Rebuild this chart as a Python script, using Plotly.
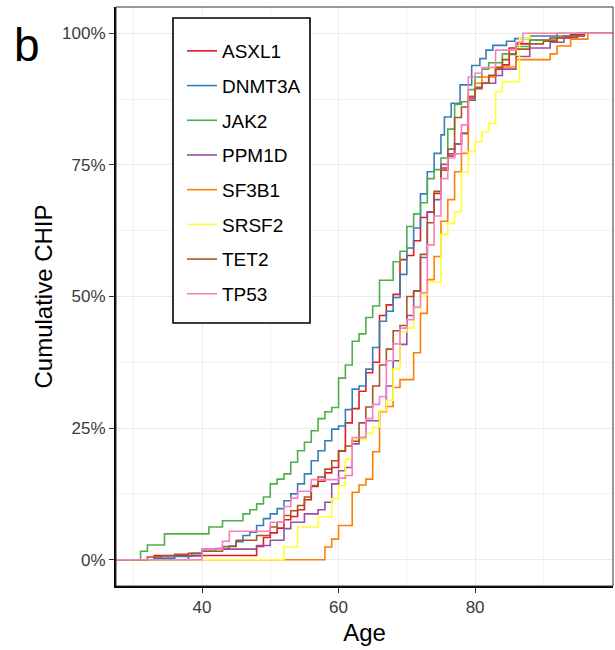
import plotly.graph_objects as go

# ---------------- data ----------------
genes = ["ASXL1", "DNMT3A", "JAK2", "PPM1D", "SF3B1", "SRSF2", "TET2", "TP53"]
colors = ["#E41A1C", "#377EB8", "#4DAF4A", "#984EA3", "#FF7F00", "#FFFF33", "#A65628", "#F781BF"]

asxl1_age = [33, 48, 49, 50, 51, 52, 53, 54, 55, 56, 57, 58, 59, 60, 61, 62, 63, 64, 65, 66, 67, 68, 69, 70, 71, 72, 73, 74, 75, 76, 77, 78, 79, 80, 81, 82, 83, 84, 85, 86, 88, 91, 94, 96]
asxl1_cum = [0.8, 2.5, 4.2, 5.1, 6.0, 7.6, 8.2, 9.5, 11.4, 13.9, 14.9, 16.5, 17.5, 20.6, 26.0, 28.7, 32.0, 35.5, 37.5, 46.4, 48.4, 50.4, 57.0, 57.8, 60.6, 65.0, 66.0, 69.6, 74.4, 76.7, 79.0, 81.0, 87.7, 89.7, 90.5, 92.0, 93.2, 94.0, 97.2, 98.0, 98.7, 99.1, 99.8, 100]

dnmt3a_age = [33, 36, 38.5, 40, 42, 44, 45, 46, 47, 48, 49, 50, 51, 52, 53, 54, 55, 56, 57, 58, 59, 60, 61, 62, 63, 64, 65, 66, 67, 68, 69, 70, 71, 72, 73, 74, 75, 75.5, 76.5, 77.8, 79.5, 80.7, 81.6, 82.6, 84.6, 85.8, 88, 92]
dnmt3a_cum = [0.3, 0.6, 1.2, 1.6, 2.1, 2.6, 3.4, 4.6, 5.2, 6.5, 7.8, 8.7, 9.7, 11.2, 12.5, 14.4, 16.3, 18.8, 20.7, 22.6, 24.8, 25.4, 28.5, 32.4, 33.0, 36.2, 40.3, 45.3, 47.2, 49.8, 54.2, 59.2, 63.0, 69.5, 73.7, 77.2, 80.7, 84.1, 86.7, 90.2, 93.9, 95.2, 96.8, 97.7, 98.5, 99.0, 99.5, 100]

jak2_age = [31, 32, 34.5, 41, 43, 46, 47, 48, 49, 50, 51, 52, 53, 54, 55, 56, 57, 58, 59, 60, 61, 62, 63, 64, 65, 66, 68, 69, 70, 71, 72, 73, 74, 75, 76, 77, 78, 79, 80, 81, 82, 84, 86, 88, 92, 96]
jak2_cum = [1.6, 2.8, 4.9, 6.2, 7.4, 8.7, 9.5, 10.6, 11.9, 14.4, 15.3, 16.3, 18.5, 20.7, 22.3, 24.5, 26.8, 28.1, 28.9, 34.5, 37.0, 41.5, 42.9, 46.0, 48.2, 53.1, 56.6, 58.6, 63.3, 65.7, 67.8, 72.4, 74.1, 76.3, 81.8, 86.5, 87.0, 89.3, 91.7, 93.2, 94.4, 96.1, 97.5, 98.7, 99.5, 100]

ppm1d_age = [38, 40, 48, 50, 52, 53, 55, 57, 58, 59, 60, 61, 62, 63, 64, 66, 67, 68, 69, 70, 71, 72, 73, 74, 75, 76, 77, 78, 79, 80, 81, 83, 84, 86, 88, 91, 93, 96]
ppm1d_cum = [0.7, 2.0, 2.7, 3.7, 5.9, 7.1, 8.7, 9.5, 10.9, 14.4, 16.9, 17.5, 22.0, 23.2, 26.4, 28.3, 33.0, 37.8, 40.9, 46.4, 51.1, 57.4, 66.1, 68.4, 75.1, 77.1, 79.0, 81.0, 87.3, 89.7, 90.5, 92.0, 93.2, 95.6, 97.2, 98.3, 99.5, 100]

sf3b1_age = [58, 59, 60, 62, 63, 64, 65, 66, 67, 68, 69, 71, 72, 73, 74, 75, 76, 77, 78, 79, 80, 81, 83, 86, 91, 92, 94, 96.5]
sf3b1_cum = [2.4, 3.9, 6.5, 12.8, 14.2, 15.3, 20.5, 28.1, 29.1, 32.7, 34.2, 39.3, 46.8, 53.2, 57.6, 64.3, 68.4, 73.7, 77.2, 88.0, 90.5, 91.7, 93.6, 95.0, 96.1, 97.6, 98.9, 100]

srsf2_age = [52, 54, 57, 59, 60, 61, 62, 64, 65, 66, 67, 68, 69, 70, 71, 72, 73, 75, 76, 77, 78, 79, 80, 81, 82, 83, 84, 86.5, 88]
srsf2_cum = [2.4, 6.2, 8.1, 11.6, 14.1, 19.1, 22.8, 24.0, 25.2, 28.3, 30.3, 36.2, 43.3, 44.0, 47.8, 50.4, 52.7, 61.8, 63.9, 66.1, 73.6, 77.5, 79.4, 81.3, 82.9, 88.9, 90.8, 99.0, 100]

tet2_age = [32, 34, 36, 38, 40, 43, 45, 48, 50, 51, 52, 53, 54, 55, 56, 57, 58, 59, 60, 61, 62, 63, 64, 65, 66, 67, 68, 69, 70, 71, 72, 73, 74, 75, 76, 77, 78, 79, 80, 81, 82, 83, 84, 85, 86, 88, 90, 92, 95]
tet2_cum = [0.5, 0.7, 1.0, 1.2, 1.6, 2.5, 3.7, 4.6, 6.2, 7.1, 8.4, 9.3, 10.3, 11.9, 14.1, 15.7, 17.2, 18.8, 20.7, 21.6, 22.5, 26.0, 29.0, 33.0, 37.0, 40.0, 43.5, 44.5, 50.0, 51.0, 58.0, 64.0, 70.0, 74.0, 78.0, 84.0, 86.0, 88.0, 89.5, 90.5, 92.0, 93.5, 95.0, 96.0, 97.0, 98.0, 98.5, 99.2, 100]

tp53_age = [40, 43, 44, 50, 52, 53, 54, 56, 60, 61, 62, 64, 65, 66, 67, 68, 69, 70, 71, 72, 73, 74, 75, 76, 77, 78, 79, 80, 81, 83, 86, 87]
tp53_cum = [2.0, 3.5, 5.4, 7.1, 10.1, 11.7, 13.0, 15.2, 15.5, 16.0, 23.2, 26.8, 29.5, 31.0, 37.8, 41.0, 44.0, 45.6, 48.0, 50.7, 59.8, 65.3, 72.4, 76.3, 77.1, 82.6, 91.7, 92.4, 93.5, 96.8, 98.3, 100]

gene_ages = [asxl1_age, dnmt3a_age, jak2_age, ppm1d_age, sf3b1_age, srsf2_age, tet2_age, tp53_age]
gene_cums = [asxl1_cum, dnmt3a_cum, jak2_cum, ppm1d_cum, sf3b1_cum, srsf2_cum, tet2_cum, tp53_cum]

x_ticks = [40, 60, 80]
x_minor = [30, 50, 70, 90]
y_ticks = [0, 0.25, 0.5, 0.75, 1.0]
y_ticktext = ["0%", "25%", "50%", "75%", "100%"]
y_minor = [0.125, 0.375, 0.625, 0.875]

X_RANGE = [27.4, 100.2]
Y_RANGE = [-0.05, 1.05]

FONT = "Liberation Sans, Arial, sans-serif"

fig = go.Figure()
for i, (g, col, ages, cums) in enumerate(zip(genes, colors, gene_ages, gene_cums)):
    xs = [X_RANGE[0]] + list(ages) + [X_RANGE[1]]
    ys = [0.0] + [c / 100.0 for c in cums] + [1.0]
    fig.add_trace(go.Scatter(
        x=xs, y=ys, mode="lines", name=g, legendgroup=g,
        line=dict(color=col, width=1.6, shape="hv"),
        hoverinfo="skip",
    ))

axis_common = dict(
    showgrid=True, gridcolor="#EBEBEB", gridwidth=1.2,
    zeroline=False, showline=True, linecolor="black", linewidth=2,
    ticks="outside", ticklen=5, tickcolor="#333333", tickwidth=1,
    tickfont=dict(family=FONT, size=17, color="#3a3a3a"),
    automargin=False,
)

fig.update_layout(
    width=615, height=650,
    margin=dict(l=116, r=2, t=7, b=64),
    paper_bgcolor="white", plot_bgcolor="white",
    font=dict(family=FONT, color="black"),
    xaxis=dict(
        range=X_RANGE, tickmode="array", tickvals=x_ticks,
        minor=dict(tickmode="array", tickvals=x_minor, showgrid=True,
                   gridcolor="#F2F2F2", gridwidth=1, ticks=""),
        title=dict(text="Age", font=dict(family=FONT, size=24, color="black"), standoff=8),
        **axis_common,
    ),
    yaxis=dict(
        range=Y_RANGE, tickmode="array", tickvals=y_ticks, ticktext=y_ticktext,
        minor=dict(tickmode="array", tickvals=y_minor, showgrid=True,
                   gridcolor="#F2F2F2", gridwidth=1, ticks=""),
        title=dict(text="Cumulative CHIP", font=dict(family=FONT, size=24, color="black"), standoff=3),
        **axis_common,
    ),
    legend=dict(
        x=0.1328, y=0.9568, xanchor="left", yanchor="top",
        bgcolor="rgba(0,0,0,0)", borderwidth=0,
        font=dict(family=FONT, size=19, color="black"),
        tracegroupgap=7, itemwidth=30,
    ),
    showlegend=True,
)

# plot panel border
fig.add_shape(type="rect", xref="paper", yref="paper", x0=0, y0=0, x1=1, y1=1,
              line=dict(color="#333333", width=1), layer="above")
# legend box (white, black border) drawn behind legend entries
fig.add_shape(type="rect", xref="paper", yref="paper",
              x0=(173 - 116) / 497, x1=(310 - 116) / 497,
              y0=(586 - 323) / 579, y1=(586 - 18) / 579,
              line=dict(color="black", width=1.6), fillcolor="white", layer="above")

fig.add_annotation(text="b", xref="paper", yref="paper", x=-0.21, y=0.935,
                   xanchor="left", yanchor="middle", showarrow=False,
                   font=dict(family=FONT, size=46, color="black"))

fig.write_html("out.html", config={"displayModeBar": False},
               post_script="document.body.style.margin='0';document.body.style.padding='0';")
